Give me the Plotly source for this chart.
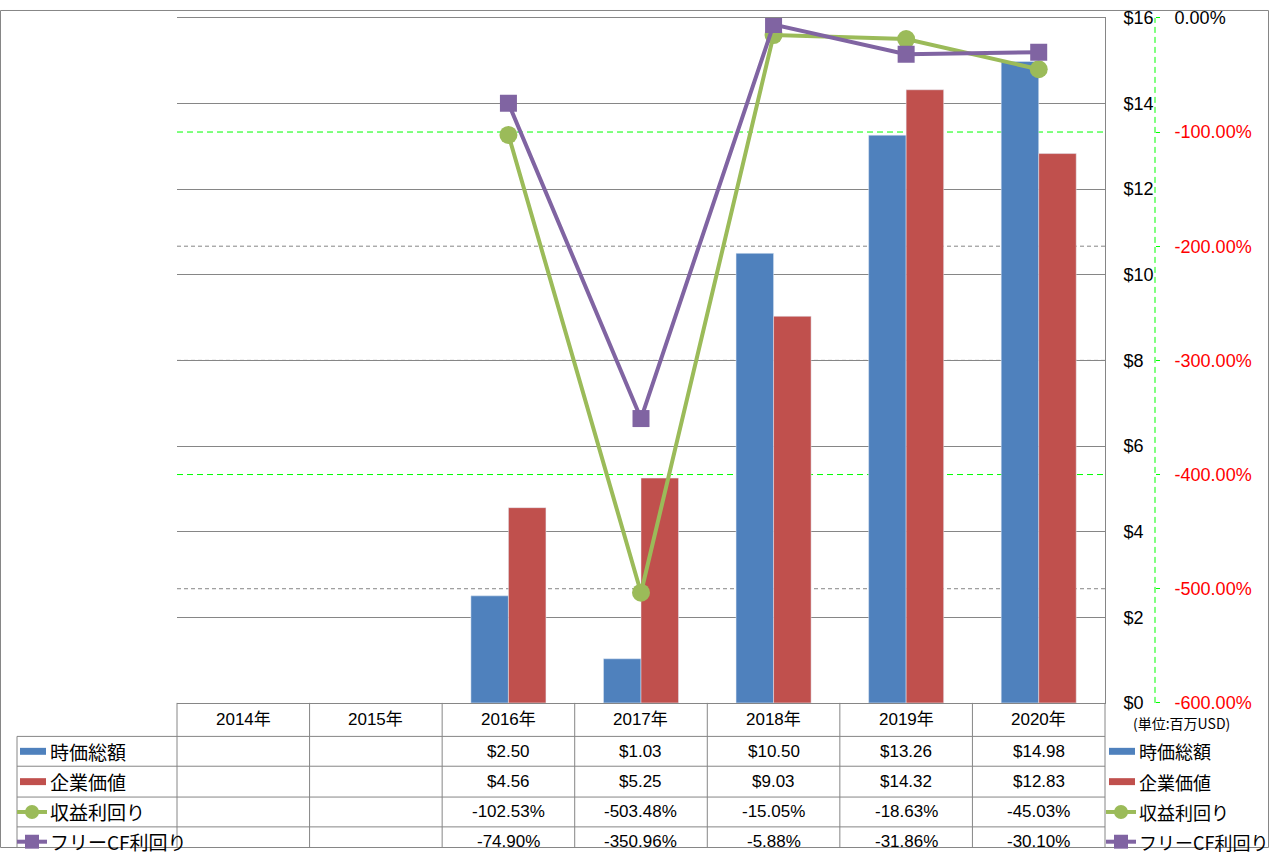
import plotly.graph_objects as go

# ---------------- data ----------------
years = ["2014年", "2015年", "2016年", "2017年", "2018年", "2019年", "2020年"]
market_cap = [None, None, 2.50, 1.03, 10.50, 13.26, 14.98]          # 時価総額 ($M)
enterprise_value = [None, None, 4.56, 5.25, 9.03, 14.32, 12.83]     # 企業価値 ($M)
earnings_yield = [None, None, -102.53, -503.48, -15.05, -18.63, -45.03]  # 収益利回り (%)
fcf_yield = [None, None, -74.90, -350.96, -5.88, -31.86, -30.10]         # フリーCF利回り (%)
series_names = ["時価総額", "企業価値", "収益利回り", "フリーCF利回り"]
y_ticks = [0, 2, 4, 6, 8, 10, 12, 14, 16]
y2_ticks = [0, -100, -200, -300, -400, -500, -600]
unit_label = "(単位:百万USD)"

# ---------------- styling ----------------
C_BLUE, C_RED, C_GREEN, C_PURPLE = "#4F81BD", "#C0504D", "#9BBB59", "#8064A2"
GRID = "#868686"
LIME = "#00FF00"
NUM_FONT = "Liberation Sans, Noto Sans CJK JP"
JP_FONT = "Noto Sans CJK JP"

W, H = 1269, 858
L, R, T, B = 177, 1105, 13, 702          # plot area in target pixels
ROWS = [702, 735.7, 765.7, 796.7, 826.7, 856.5]
LEG_X = 17

# vertical placement tweak (target pixel -> page pixel)
VA, VB = -5.2, 1.018


def px(x):
    return x / W


def py(y):
    return 1 - (VA + VB * y) / H


fig = go.Figure()
fig.add_trace(go.Bar(x=years, y=market_cap, name=series_names[0], marker_color=C_BLUE))
fig.add_trace(go.Bar(x=years, y=enterprise_value, name=series_names[1], marker_color=C_RED))
fig.add_trace(go.Scatter(x=years, y=earnings_yield, name=series_names[2], yaxis="y2",
                         mode="lines+markers", line=dict(color=C_GREEN, width=4),
                         marker=dict(symbol="circle", size=18, color=C_GREEN)))
fig.add_trace(go.Scatter(x=years, y=fcf_yield, name=series_names[3], yaxis="y2",
                         mode="lines+markers", line=dict(color=C_PURPLE, width=4),
                         marker=dict(symbol="square", size=17, color=C_PURPLE)))

y2_text = []
for v in y2_ticks:
    s = f"{v:.2f}%"
    if v < 0:
        s = f"<span style='color:#FF0000'>{s}</span>"
    y2_text.append(s)

shapes = []
annotations = []

# outer border
shapes.append(dict(type="rect", xref="paper", yref="paper", x0=px(0.5), x1=px(1268.5),
                   y0=1 - 0.5 / H, y1=0.5 / H, line=dict(color=GRID, width=1)))

# secondary gridlines
for v in y2_ticks[1:-1]:
    green = v in (-100, -400)
    shapes.append(dict(type="line", xref="paper", yref="y2", x0=px(L), x1=px(R), y0=v, y1=v,
                       line=dict(color=LIME if green else GRID, width=1,
                                 dash="6px,4px" if green else "4px,3px"),
                       layer="below"))

# secondary axis dashed line
AX2 = 1155
shapes.append(dict(type="line", xref="paper", yref="paper", x0=px(AX2), x1=px(AX2),
                   y0=py(B), y1=py(T), line=dict(color=LIME, width=1, dash="6px,4px")))

# data table grid
ncat = len(years)
cw = (R - L) / ncat
for i in range(ncat + 1):
    x = L + i * cw
    shapes.append(dict(type="line", xref="paper", yref="paper", x0=px(x), x1=px(x),
                       y0=py(B), y1=0, line=dict(color=GRID, width=1)))
for y in ROWS[1:-1]:
    shapes.append(dict(type="line", xref="paper", yref="paper", x0=px(LEG_X), x1=px(R),
                       y0=py(y), y1=py(y), line=dict(color=GRID, width=1)))
shapes.append(dict(type="line", xref="paper", yref="paper", x0=px(LEG_X), x1=px(LEG_X),
                   y0=py(ROWS[1]), y1=0, line=dict(color=GRID, width=1)))

# header
for i, yr in enumerate(years):
    annotations.append(dict(xref="paper", yref="paper", x=px(L + (i + 0.5) * cw),
                            y=py((ROWS[0] + ROWS[1]) / 2), text=yr, showarrow=False,
                            xanchor="center", yanchor="middle",
                            font=dict(family=NUM_FONT, size=17, color="black")))

rows_vals = [
    [None if v is None else f"${v:.2f}" for v in market_cap],
    [None if v is None else f"${v:.2f}" for v in enterprise_value],
    [None if v is None else f"{v:.2f}%" for v in earnings_yield],
    [None if v is None else f"{v:.2f}%" for v in fcf_yield],
]
for r, vals in enumerate(rows_vals):
    yc = (ROWS[r + 1] + ROWS[r + 2]) / 2
    for i, t in enumerate(vals):
        if t is None:
            continue
        annotations.append(dict(xref="paper", yref="paper", x=px(L + (i + 0.5) * cw),
                                y=py(yc), text=t, showarrow=False, xanchor="center",
                                yanchor="middle", font=dict(family=NUM_FONT, size=17, color="black")))


def legend_key(x0, yc, kind, color, label, size=19):
    if kind == "bar":
        shapes.append(dict(type="rect", xref="paper", yref="paper", x0=px(x0 + 3), x1=px(x0 + 29),
                           y0=py(yc + 3.5), y1=py(yc - 3.5), line=dict(width=0), fillcolor=color))
    else:
        shapes.append(dict(type="line", xref="paper", yref="paper", x0=px(x0), x1=px(x0 + 30),
                           y0=py(yc), y1=py(yc), line=dict(color=color, width=4)))
        cx = x0 + 15
        if kind == "circle":
            shapes.append(dict(type="circle", xref="paper", yref="paper", x0=px(cx - 7), x1=px(cx + 7),
                               y0=py(yc + 7), y1=py(yc - 7), line=dict(width=0), fillcolor=color))
        else:
            shapes.append(dict(type="rect", xref="paper", yref="paper", x0=px(cx - 7), x1=px(cx + 7),
                               y0=py(yc + 7), y1=py(yc - 7), line=dict(width=0), fillcolor=color))
    annotations.append(dict(xref="paper", yref="paper", x=px(x0 + 31), y=py(yc), text=label,
                            showarrow=False, xanchor="left", yanchor="middle",
                            font=dict(family=JP_FONT, size=size, color="black")))


kinds = ["bar", "bar", "circle", "square"]
colors = [C_BLUE, C_RED, C_GREEN, C_PURPLE]
for r in range(4):
    yc = (ROWS[r + 1] + ROWS[r + 2]) / 2
    legend_key(LEG_X, yc, kinds[r], colors[r], series_names[r])
    legend_key(1106, yc, kinds[r], colors[r], series_names[r], size=18)

annotations.append(dict(xref="paper", yref="paper", x=px(1181), y=py(722), text=unit_label,
                        showarrow=False, xanchor="center", yanchor="middle",
                        font=dict(family=JP_FONT, size=14, color="black")))

fig.update_layout(
    width=W, height=H, autosize=False, margin=dict(l=0, r=0, t=0, b=0, pad=0),
    paper_bgcolor="white", plot_bgcolor="white",
    showlegend=False, barmode="group", bargap=0.434, bargroupgap=0,
    font=dict(family=NUM_FONT, size=17, color="black"),
    xaxis=dict(domain=[px(L), px(R)], type="category", categoryarray=years,
               range=[-0.5, ncat - 0.5], showticklabels=False, ticks="",
               showgrid=False, showline=True, linecolor=GRID, linewidth=1, mirror=True,
               zeroline=False),
    yaxis=dict(domain=[py(B), py(T)], range=[0, 16], tickvals=y_ticks,
               ticktext=[f"${v}" for v in y_ticks], side="right",
               showgrid=True, gridcolor=GRID, gridwidth=1, zeroline=False,
               showline=True, linecolor=GRID, linewidth=1, ticks="",
               ticklabelstandoff=14, ticklabeloverflow="allow",
               tickfont=dict(family=NUM_FONT, size=18, color="black")),
    yaxis2=dict(overlaying="y", side="right", anchor="free", position=px(AX2),
                range=[-600, 0], tickvals=y2_ticks, ticktext=y2_text,
                showgrid=False, zeroline=False, showline=False,
                ticks="outside", ticklen=4, tickcolor=LIME, tickwidth=1,
                ticklabelstandoff=11, ticklabeloverflow="allow",
                tickfont=dict(family=NUM_FONT, size=18, color="black")),
    shapes=shapes, annotations=annotations,
)

POST = (
    "var de=document.documentElement, bd=document.body;"
    "de.style.margin='0';de.style.padding='0';de.style.overflow='hidden';"
    "bd.style.margin='0';bd.style.padding='0';bd.style.overflow='hidden';"
)

fig.write_html("out.html", config={"displayModeBar": False, "responsive": False},
               post_script=POST)
